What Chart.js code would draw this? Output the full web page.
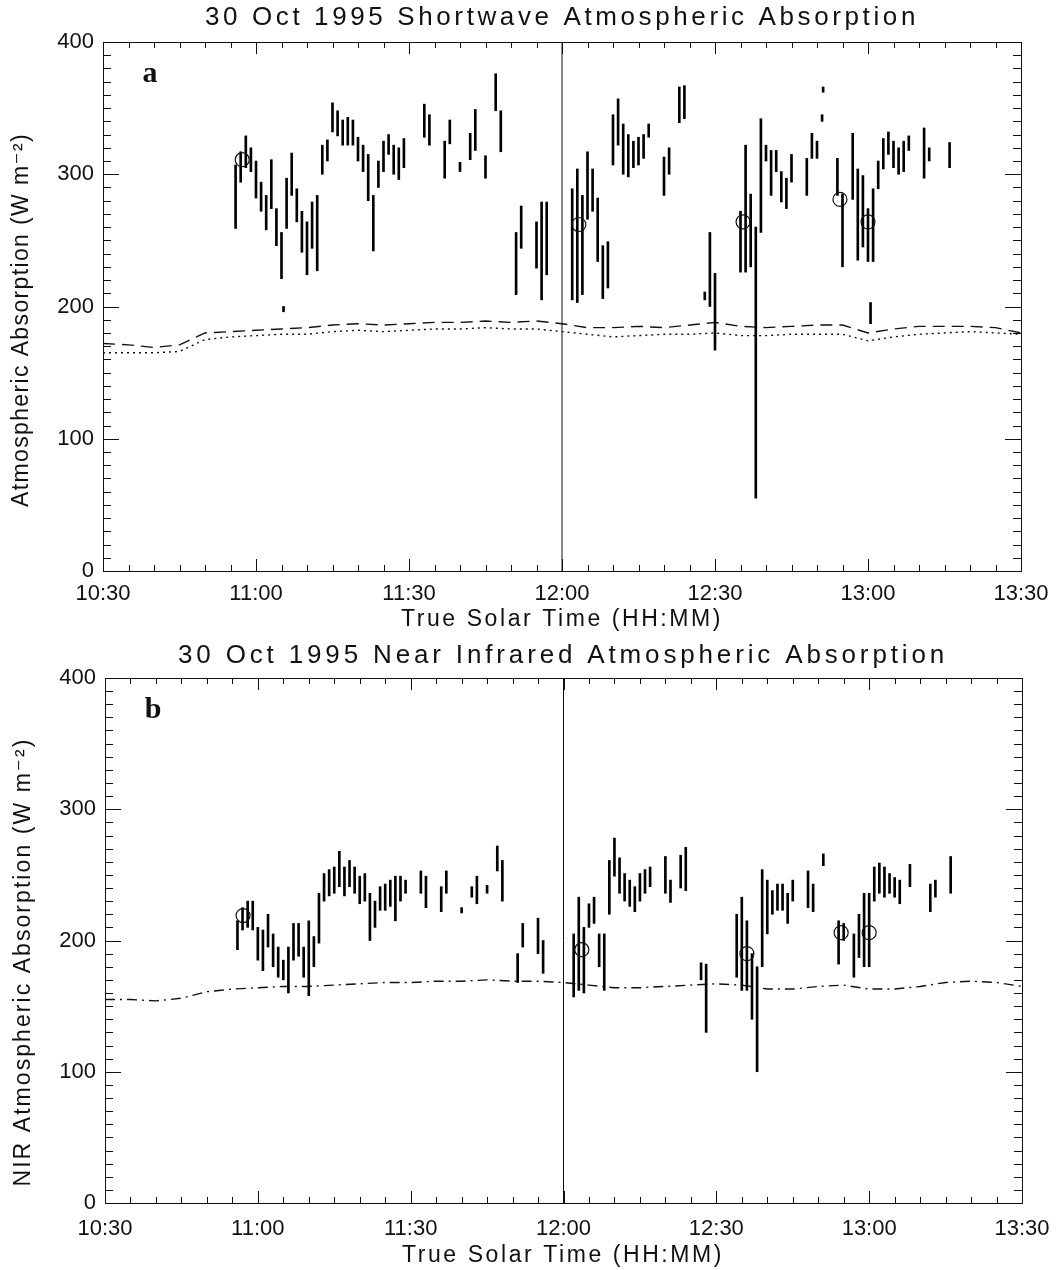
<!DOCTYPE html>
<html>
<head>
<meta charset="utf-8">
<title>30 Oct 1995 Atmospheric Absorption</title>
<script src="https://cdn.jsdelivr.net/npm/chart.js@4.4.1/dist/chart.umd.min.js"></script>
<style>
  html, body { margin: 0; padding: 0; background: #fff; }
  canvas { display: block; }
</style>
</head>
<body>
<canvas id="swChart" width="1064" height="635"></canvas>
<canvas id="nirChart" width="1064" height="635"></canvas>
<script>
// times are minutes after midnight (10:30 = 630, 13:30 = 810)

// panel a: shortwave absorption, min/max of the observations in each minute
const swMinute = [656, 657, 658, 659, 660, 661, 662, 663, 664, 665, 665.4, 666, 667, 668, 669, 670, 671, 672, 673, 674,
  675, 676, 677, 678, 679, 680, 681, 682, 683, 684, 685, 686, 687, 688, 689, 693, 694, 697, 698, 700,
  702, 703, 705, 707, 708, 711, 712, 715, 716, 717, 722, 723, 724, 725, 726, 727, 728, 729, 730, 731,
  732, 733, 734, 735, 736, 737, 740, 741, 743, 744, 748, 749, 750, 755, 756, 757, 758, 759, 760, 761,
  762, 763, 764, 765, 768, 769, 770, 771, 771.2, 774, 775, 777, 778, 779, 780, 780.5, 781, 782, 783, 784,
  785, 786, 787, 788, 791, 792, 796];
const swLow = [259, 294, 305, 302, 282, 272, 258, 274, 246, 221, 196, 259, 284, 264, 241, 224, 244, 227, 300, 310,
  332, 329, 322, 322, 322, 310, 302, 280, 242, 290, 302, 315, 300, 296, 305, 328, 322, 297, 323, 302,
  311, 318, 297, 348, 317, 209, 244, 229, 205, 224, 205, 203, 209, 266, 272, 234, 206, 214, 307, 322,
  300, 298, 305, 307, 312, 328, 284, 300, 339, 342, 205, 200, 167, 226, 226, 230, 55, 256, 310, 284,
  302, 279, 274, 294, 284, 312, 312, 340, 362, 284, 230, 281, 235, 245, 234, 187, 234, 289, 304, 315,
  305, 300, 302, 318, 297, 310, 305];
const swHigh = [307, 317, 329, 320, 310, 294, 284, 311, 274, 256, 200, 297, 316, 289, 272, 264, 279, 284, 322, 326,
  354, 348, 341, 343, 341, 328, 322, 315, 284, 310, 325, 330, 322, 320, 327, 353, 345, 325, 341, 309,
  331, 349, 314, 376, 348, 256, 276, 264, 279, 279, 289, 304, 284, 317, 304, 282, 246, 249, 345, 357,
  338, 330, 325, 328, 330, 338, 313, 320, 366, 367, 211, 256, 225, 272, 322, 285, 260, 342, 322, 318,
  318, 302, 297, 315, 312, 331, 325, 345, 366, 312, 285, 331, 304, 299, 274, 203, 289, 310, 327, 332,
  325, 320, 325, 329, 335, 320, 324];
const swCircleTime = [657.3, 723.3, 755.5, 774.5, 780];
const swCircleValue = [311, 262, 264, 281, 264];

// panel a: modelled clear-sky absorption (dashed and dotted curves)
const swModelTime = [630, 635, 640, 645, 650, 655, 660, 665, 670, 675, 680, 685, 690, 695, 700, 705, 710, 715, 720,
  725, 730, 735, 740, 745, 750, 755, 760, 765, 770, 775, 780, 785, 790, 795, 800, 805, 810];
const swModelDashed = [172, 171, 169, 171, 180, 181, 182, 183, 184, 186, 187, 186, 187, 188, 188, 189, 188, 189, 187,
  184, 184, 185, 184, 186, 188, 185, 184, 185, 186, 186, 180, 183, 185, 185, 185, 184, 180];
const swModelDotted = [165, 165, 165, 166, 175, 177, 178, 179, 179, 181, 182, 181, 182, 183, 183, 184, 183, 183, 181,
  179, 177, 178, 179, 179, 180, 178, 178, 179, 179, 179, 174, 177, 179, 180, 181, 180, 179];

// panel b: near infrared absorption
const nirMinute = [656, 657, 658, 659, 660, 661, 662, 663, 664, 665, 666, 667, 668, 669, 670, 671, 672, 673, 674, 675,
  676, 677, 678, 679, 680, 681, 682, 683, 684, 685, 686, 687, 688, 689, 692, 693, 696, 697, 700, 702,
  703, 705, 707, 708, 711, 712, 715, 716, 722, 723, 724, 725, 726, 727, 728, 729, 730, 731, 732, 733,
  734, 735, 736, 737, 740, 741, 743, 744, 747, 748, 754, 755, 756, 757, 758, 759, 760, 761, 762, 763,
  764, 765, 768, 769, 771, 774, 775, 777, 778, 779, 780, 781, 782, 783, 784, 785, 786, 788, 792, 793,
  796];
const nirLow = [193, 208, 210, 208, 185, 177, 195, 180, 172, 170, 160, 185, 188, 172, 158, 180, 198, 230, 234, 236,
  241, 234, 241, 236, 228, 230, 200, 210, 223, 223, 226, 215, 230, 236, 236, 225, 222, 236, 221, 233,
  228, 236, 253, 230, 168, 195, 190, 175, 157, 162, 160, 210, 213, 180, 162, 220, 249, 236, 230, 226,
  222, 230, 236, 241, 236, 229, 240, 238, 170, 130, 172, 162, 162, 140, 100, 180, 205, 220, 223, 223,
  213, 230, 225, 222, 257, 182, 200, 172, 187, 180, 180, 230, 236, 233, 236, 233, 228, 241, 222, 233,
  236];
const nirHigh = [215, 225, 230, 230, 210, 208, 220, 205, 195, 185, 195, 213, 213, 195, 215, 203, 236, 251, 254, 256,
  268, 256, 261, 256, 249, 251, 236, 230, 241, 243, 246, 249, 249, 246, 253, 249, 241, 253, 225, 241,
  249, 242, 272, 261, 190, 213, 217, 200, 205, 233, 210, 228, 233, 205, 205, 261, 278, 263, 251, 246,
  241, 251, 254, 256, 264, 246, 265, 271, 183, 182, 220, 233, 215, 190, 180, 254, 246, 238, 243, 243,
  236, 246, 253, 243, 266, 215, 213, 205, 220, 236, 236, 256, 259, 256, 251, 248, 246, 258, 243, 246,
  264];
const nirCircleTime = [657.1, 723.6, 756, 774.5, 780];
const nirCircleValue = [219, 193, 190, 206, 206];

// panel b: modelled clear-sky NIR absorption (dash-dot curve)
const nirModelTime = swModelTime;
const nirModel = [155, 155, 154, 156, 161, 163, 164, 165, 165, 166, 167, 168, 168, 169, 169, 170, 169, 169, 168,
  166, 164, 164, 165, 166, 167, 166, 163, 163, 165, 166, 163, 163, 165, 168, 169, 168, 165];

// solar noon marker
const noonTime = [720, 720];
const noonValue = [0, 400];

const xTicks = ["10:30", "11:00", "11:30", "12:00", "12:30", "13:00", "13:30"];

const toClock = (v) => {
    const h = Math.floor(v / 60);
    const m = Math.round(v - h * 60);
    return h + ":" + String(m).padStart(2, "0");
};

const zip = (xs, ys) => xs.map((x, i) => ({ x: x, y: ys[i] }));
const zipRange = (xs, lo, hi) => xs.map((x, i) => ({ x: x, y: [lo[i], hi[i]] }));

const INK = "#111";
const LABEL_FONT = "'Liberation Sans', 'DejaVu Sans', sans-serif";

function spacedText(ctx, text, cx, cy, width, font, rot) {
    ctx.save();
    ctx.font = font;
    ctx.fillStyle = INK;
    ctx.translate(cx, cy);
    if (rot) ctx.rotate(rot);
    ctx.textAlign = "left";
    ctx.textBaseline = "middle";
    const n = [...text].length;
    const w0 = ctx.measureText(text).width;
    if ("letterSpacing" in ctx) {
        ctx.letterSpacing = ((width - w0) / n) + "px";
        ctx.fillText(text, -width / 2, 0);
    } else {
        ctx.scale(width / w0, 1);
        ctx.fillText(text, -w0 / 2, 0);
    }
    ctx.restore();
}

// IDL style box: frame, inward ticks on all four sides, titles
const framePlugin = {
    id: "frame",
    afterDraw(chart, args, o) {
        const { ctx, chartArea: a } = chart;
        const x = chart.scales.x, y = chart.scales.y;
        ctx.save();
        ctx.strokeStyle = INK;
        ctx.lineWidth = 1;
        ctx.strokeRect(a.left + 0.5, a.top + 0.5, a.width, a.height);
        ctx.beginPath();
        for (let t = 630; t <= 810; t += 5) {
            const px = Math.round(x.getPixelForValue(t)) + 0.5;
            const len = t % 30 === 0 ? 12 : 6;
            ctx.moveTo(px, a.bottom); ctx.lineTo(px, a.bottom - len);
            ctx.moveTo(px, a.top); ctx.lineTo(px, a.top + len);
        }
        for (let v = 0; v <= 400; v += 10) {
            const py = Math.round(y.getPixelForValue(v)) + 0.5;
            const len = v % 100 === 0 ? 16 : 8;
            ctx.moveTo(a.left, py); ctx.lineTo(a.left + len, py);
            ctx.moveTo(a.right, py); ctx.lineTo(a.right - len, py);
        }
        ctx.stroke();
        ctx.restore();

        spacedText(ctx, o.title, o.titleX, o.titleY, o.titleW, "26px " + LABEL_FONT);
        spacedText(ctx, o.xTitle, o.titleX, o.xTitleY, 322, "23px " + LABEL_FONT);
        spacedText(ctx, o.yTitle, o.yTitleX, o.yTitleY, o.yTitleW, "23px " + LABEL_FONT, -Math.PI / 2);

        ctx.save();
        ctx.fillStyle = INK;
        ctx.font = "bold 30px 'Liberation Serif', 'DejaVu Serif', serif";
        ctx.textAlign = "center";
        ctx.textBaseline = "middle";
        ctx.fillText(o.letter, o.letterX, o.letterY);
        ctx.restore();
    }
};

function makeChart(id, cfg) {
    const datasets = [
        ...cfg.models,
        {
            type: "line",
            data: zip(noonTime, noonValue),
            borderColor: INK,
            borderWidth: 1,
            pointRadius: 0,
            clip: false,
            order: 3
        },
        {
            type: "bar",
            data: zipRange(cfg.minute, cfg.low, cfg.high),
            backgroundColor: "#000",
            borderWidth: 0,
            barThickness: 2,
            grouped: false,
            order: 2
        },
        {
            type: "line",
            data: zip(cfg.circleTime, cfg.circleValue),
            showLine: false,
            pointStyle: "circle",
            pointRadius: 7,
            pointBorderWidth: 1.2,
            pointBorderColor: INK,
            pointBackgroundColor: "rgba(0,0,0,0)",
            order: 1
        }
    ];

    return new Chart(document.getElementById(id).getContext("2d"), {
        type: "bar",
        data: { datasets: datasets },
        plugins: [framePlugin],
        options: {
            responsive: false,
            animation: false,
            devicePixelRatio: 1,
            layout: { padding: { left: 0, top: cfg.top, right: cfg.right, bottom: 0 } },
            scales: {
                x: {
                    type: "linear",
                    min: 630,
                    max: 810,
                    offset: false,
                    grid: { display: false, drawTicks: false, offset: false },
                    border: { display: false },
                    afterFit: (s) => { s.height = cfg.xHeight; },
                    afterBuildTicks: (s) => {
                        s.ticks = xTicks.map((lab) => {
                            const p = lab.split(":");
                            return { value: +p[0] * 60 + +p[1] };
                        });
                    },
                    ticks: {
                        padding: cfg.xPad,
                        maxRotation: 0,
                        autoSkip: false,
                        color: INK,
                        font: { family: LABEL_FONT, size: 22 },
                        callback: (v) => toClock(v)
                    }
                },
                y: {
                    type: "linear",
                    min: 0,
                    max: 400,
                    grid: { display: false, drawTicks: false },
                    border: { display: false },
                    afterFit: (s) => { s.width = cfg.left; },
                    ticks: {
                        stepSize: 100,
                        padding: 9,
                        color: INK,
                        font: { family: LABEL_FONT, size: 22 }
                    }
                }
            },
            plugins: {
                legend: { display: false },
                tooltip: { enabled: false },
                frame: cfg.text
            }
        }
    });
}

makeChart("swChart", {
    minute: swMinute, low: swLow, high: swHigh,
    circleTime: swCircleTime, circleValue: swCircleValue,
    models: [
        {
            type: "line", data: zip(swModelTime, swModelDashed),
            borderColor: INK, borderWidth: 1.4, borderDash: [12, 7], pointRadius: 0, order: 4
        },
        {
            type: "line", data: zip(swModelTime, swModelDotted),
            borderColor: INK, borderWidth: 1.4, borderDash: [2, 4], pointRadius: 0, order: 4
        }
    ],
    top: 42, right: 43, left: 103, xHeight: 64, xPad: 10,
    text: {
        title: "30 Oct 1995 Shortwave Atmospheric Absorption",
        titleX: 562, titleY: 18, titleW: 714,
        xTitle: "True Solar Time (HH:MM)", xTitleY: 620,
        yTitle: "Atmospheric Absorption (W m\u207B\u00B2)",
        yTitleX: 22, yTitleY: 320, yTitleW: 374,
        letter: "a", letterX: 150, letterY: 74
    }
});

makeChart("nirChart", {
    minute: nirMinute, low: nirLow, high: nirHigh,
    circleTime: nirCircleTime, circleValue: nirCircleValue,
    models: [
        {
            type: "line", data: zip(nirModelTime, nirModel),
            borderColor: INK, borderWidth: 1.4, borderDash: [10, 5, 2, 5], pointRadius: 0, order: 4
        }
    ],
    top: 43, right: 42, left: 105, xHeight: 67, xPad: 13,
    text: {
        title: "30 Oct 1995 Near Infrared Atmospheric Absorption",
        titleX: 563, titleY: 21, titleW: 770,
        xTitle: "True Solar Time (HH:MM)", xTitleY: 621,
        yTitle: "NIR Atmospheric Absorption (W m\u207B\u00B2)",
        yTitleX: 24, yTitleY: 327, yTitleW: 449,
        letter: "b", letterX: 153, letterY: 75
    }
});
</script>
</body>
</html>
